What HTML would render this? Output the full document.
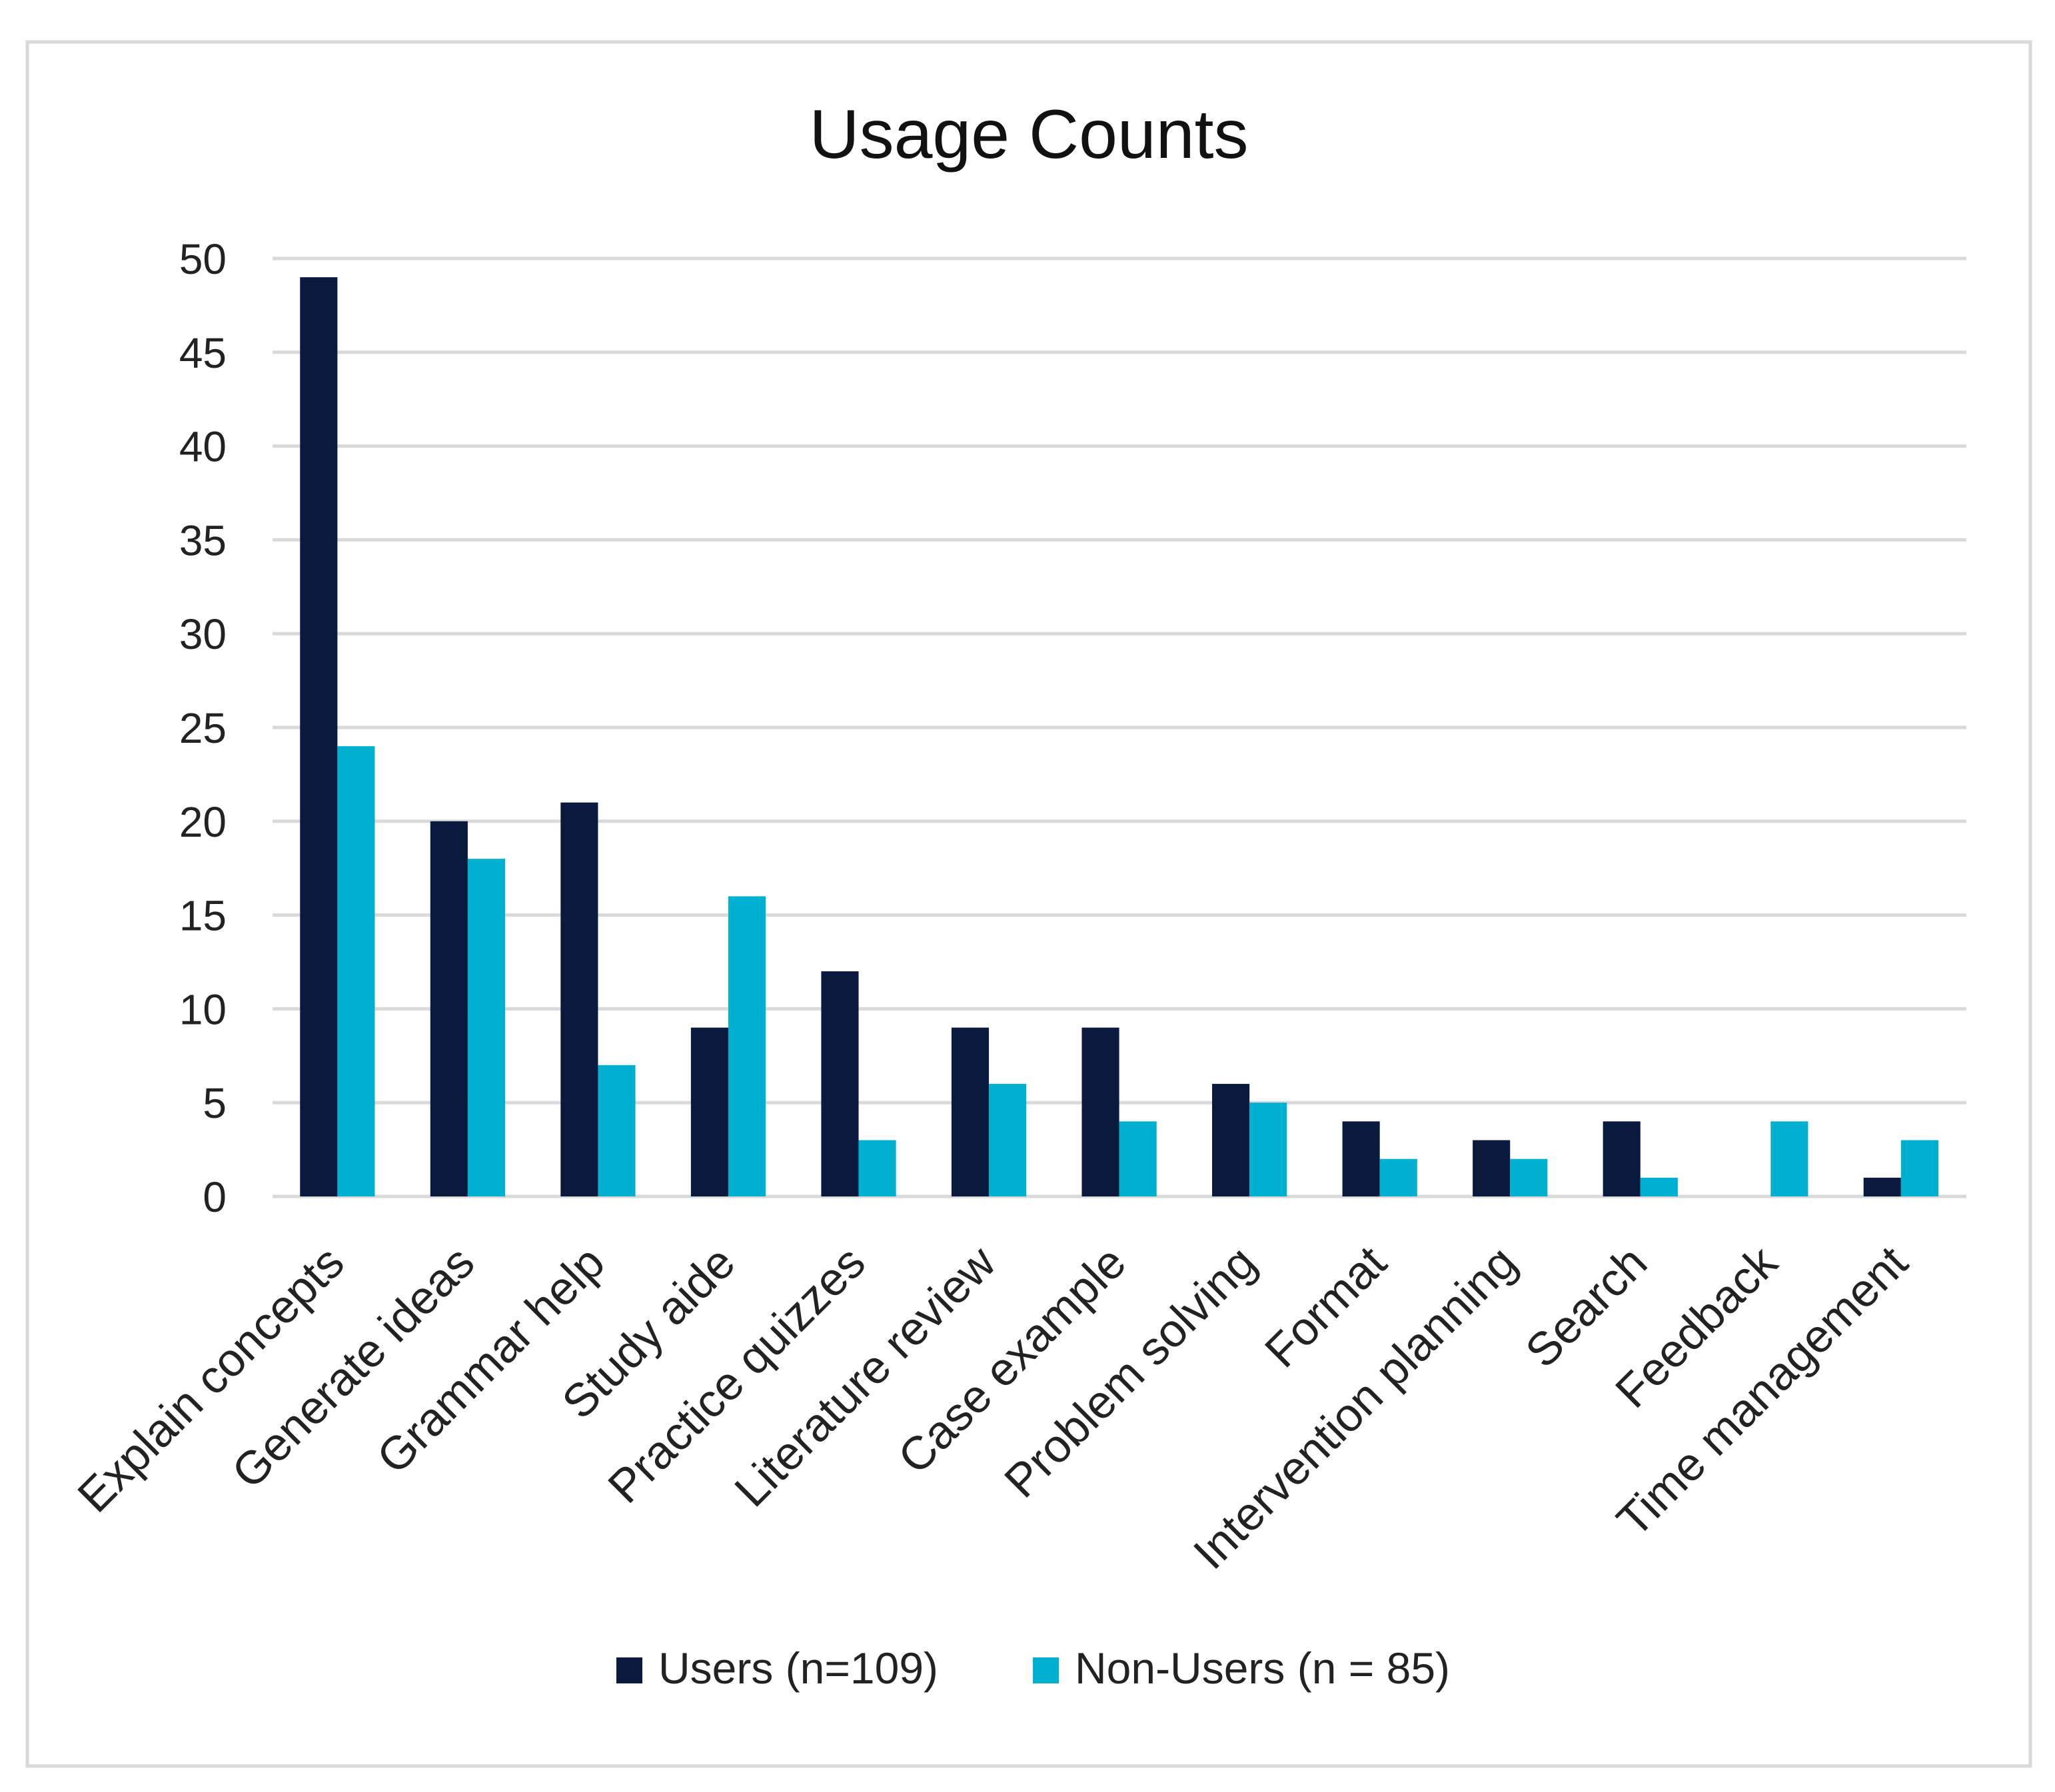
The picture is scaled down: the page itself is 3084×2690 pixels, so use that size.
<!DOCTYPE html>
<html><head><meta charset="utf-8"><style>
html,body{margin:0;padding:0;background:#fff;}
svg{display:block;}
text{font-family:"Liberation Sans",sans-serif;}
</style></head><body>
<svg id="chart" width="3084" height="2690" viewBox="0 0 3084 2690">
<rect x="41" y="63" width="3006" height="2588" fill="#fff" stroke="#d9d9d9" stroke-width="5"/>
<text x="1544" y="237" font-size="104" text-anchor="middle" fill="#111">Usage Counts</text>
<g id="grid"></g><g id="bars"></g><g id="labels"></g>
<g>
<rect x="925" y="2488" width="39" height="39" fill="#0a1a3f"/>
<text x="988" y="2527" font-size="66" fill="#222">Users  (n=109)</text>
<rect x="1550" y="2488" width="39" height="39" fill="#00b0d0"/>
<text x="1613" y="2527" font-size="66" fill="#222">Non-Users (n = 85)</text>
</g>
</svg>
<script>
const categories=["Explain concepts","Generate ideas","Grammar help","Study aide","Practice quizzes","Literature review","Case example","Problem solving","Format","Intervention planning","Search","Feedback","Time management"];
const usersValues=[49,20,21,9,12,9,9,6,4,3,4,0,1];
const nonUsersValues=[24,18,7,16,3,6,4,5,2,2,1,4,3];
const yTicks=[0,5,10,15,20,25,30,35,40,45,50];
const NS="http://www.w3.org/2000/svg";
const L=409,R=2951,Y0=1796,Y50=388;
const y=v=>Y0-(v/50)*(Y0-Y50);
const gw=(R-L)/categories.length;
const x=i=>L+i*gw;
const bw=gw*0.287,off=gw*0.211;
function mk(t,a,p){const e=document.createElementNS(NS,t);for(const k in a)e.setAttribute(k,a[k]);p.appendChild(e);return e;}
const grid=document.getElementById('grid'),bars=document.getElementById('bars'),labels=document.getElementById('labels');
yTicks.forEach(t=>{
 const l=mk('line',{x1:L,x2:R,y1:y(t),y2:y(t),stroke:'#d9d9d9','stroke-width':5},grid);
 
 
 const tx=mk('text',{x:340,y:y(t)+23,'font-size':64,'text-anchor':'end',fill:'#222'},grid);
 tx.textContent=t;
 
 
});
categories.forEach((c,i)=>{
 const b1=mk('rect',{x:x(i)+off,y:y(usersValues[i]),width:bw,height:Y0-y(usersValues[i]),fill:'#0a1a3f'},bars);
 
 
 const b2=mk('rect',{x:x(i)+off+bw,y:y(nonUsersValues[i]),width:bw,height:Y0-y(nonUsersValues[i]),fill:'#00b0d0'},bars);
 
 
 const cx=x(i)+off+bw+14, cy=1900;
 const t=mk('text',{x:cx,y:cy,'font-size':70,'text-anchor':'end',fill:'#222',transform:`rotate(-45 ${cx} ${cy})`},labels);
 t.textContent=c;
 
 
});
</script>
</body></html>
